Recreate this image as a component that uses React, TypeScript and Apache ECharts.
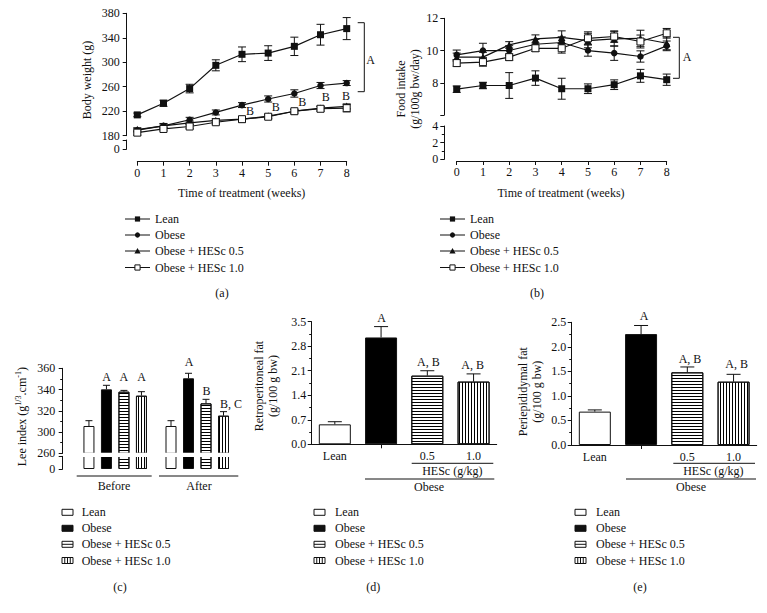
import React, { useEffect, useRef } from 'react';
import * as echarts from 'echarts';

// ---------- data ----------
const weeks = [0, 1, 2, 3, 4, 5, 6, 7, 8];
const groupNames = ['Lean', 'Obese', 'Obese + HESc 0.5', 'Obese + HESc 1.0'];

// (a) body weight (g)
const bwLean = [214, 233, 257, 295, 313, 315, 326, 345, 355];
const bwObese = [189, 196, 206, 218, 230, 240, 249, 262, 266];
const bwH05 = [190, 196, 201, 205, 207, 212, 220, 225, 228];
const bwH10 = [185, 191, 195, 202, 207, 211, 220, 224, 225];
const bwLeanErr = [3, 5, 7, 9, 12, 12, 15, 17, 18];
const bwObeseErr = [3, 4, 4, 4, 4, 5, 6, 5, 4];
const bwH05Err = [3, 3, 3, 3, 3, 3, 3, 3, 4];
const bwH10Err = [4, 3, 3, 3, 3, 3, 3, 4, 6];

// (b) food intake (g/100g bw/day)
const fiLean = [7.6, 7.83, 7.83, 8.29, 7.63, 7.63, 7.88, 8.43, 8.19];
const fiObese = [9.73, 10.0, 10.0, 10.39, 10.5, 10.0, 9.84, 9.63, 10.29];
const fiH05 = [9.59, 9.59, 10.35, 10.72, 10.82, 10.62, 10.72, 10.76, 10.45];
const fiH10 = [9.22, 9.28, 9.59, 10.14, 10.14, 10.76, 10.87, 10.56, 11.07];
const fiLeanErr = [0.2, 0.2, 0.8, 0.45, 0.65, 0.3, 0.3, 0.4, 0.35];
const fiObeseErr = [0.3, 0.45, 0.3, 0.3, 0.35, 0.35, 0.45, 0.35, 0.3];
const fiH05Err = [0.25, 0.3, 0.2, 0.25, 0.4, 0.45, 0.45, 0.5, 0.4];
const fiH10Err = [0.2, 0.25, 0.2, 0.2, 0.3, 0.4, 0.35, 0.4, 0.3];

// (c) Lee index
const leeGroups = ['Before', 'After'];
const leeBefore = [305.7, 340.2, 338, 334.2];
const leeBeforeErr = [5, 3.8, 1.2, 3.8];
const leeAfter = [305.7, 350.6, 327, 315.4];
const leeAfterErr = [5, 4.7, 3.8, 3.8];
const leeTickLabels: Record<number, string> = { 280: '260', 300: '300', 320: '320', 340: '340', 360: '360' };

// (d), (e)
const fatCats = ['Lean', '', '0.5', '1.0'];
const retroFat = [0.57, 3.05, 1.96, 1.79];
const retroErr = [0.075, 0.31, 0.14, 0.22];
const periFat = [0.68, 2.26, 1.48, 1.29];
const periErr = [0.035, 0.175, 0.11, 0.15];

// ---------- styling ----------
const FONT = 'Liberation Serif';
const INK = '#111';
const symbols = ['rect', 'circle', 'triangle', 'rect'];
const symSizes = [7, 6.5, 7.5, 7];

const hStripe = { symbol: 'rect', symbolSize: 1, dashArrayX: [1, 0], dashArrayY: [1, 2], rotation: 0, color: '#000' };
const vStripe = { symbol: 'rect', symbolSize: 1, dashArrayX: [1, 2], dashArrayY: [1, 0], rotation: 0, color: '#000' };
const barStyles: any[] = [
  { color: '#fff', borderColor: INK, borderWidth: 1 },
  { color: '#000', borderColor: INK, borderWidth: 1 },
  { color: '#fff', borderColor: INK, borderWidth: 1, decal: hStripe },
  { color: '#fff', borderColor: INK, borderWidth: 1, decal: vStripe },
];

const axisLine = { show: true, onZero: false, lineStyle: { color: INK, width: 1 } };
const axisTick = { show: true, length: 4, lineStyle: { color: INK, width: 1 } };
const minorTick = { show: true, splitNumber: 2, length: 2.5, lineStyle: { color: INK, width: 1 } };
const lbl = (margin: number, formatter?: any) => ({
  fontFamily: FONT, fontSize: 12, color: INK, margin, ...(formatter ? { formatter } : {}),
});

function lineSeries(values: number[], k: number, ai: number) {
  return {
    type: 'line', name: groupNames[k], xAxisIndex: ai, yAxisIndex: ai,
    data: weeks.map((w, i) => [w, values[i]]),
    symbol: symbols[k], symbolSize: symSizes[k], clip: false, z: 4 + (k === 3 ? 1 : 0),
    lineStyle: { color: INK, width: 1.2 },
    itemStyle: k === 3 ? { color: '#fff', borderColor: INK, borderWidth: 1 } : { color: INK },
  };
}

function errSeries(xs: number[], values: number[], errs: number[], ai: number, capHalf: number, both: boolean) {
  return {
    type: 'custom', xAxisIndex: ai, yAxisIndex: ai, clip: false, z: 3,
    encode: { x: 0, y: 1 },
    data: values.map((v, i) => [xs[i], v, errs[i]]),
    renderItem: (_p: any, api: any) => {
      const x = api.value(0), y = api.value(1), e = api.value(2);
      const pt = api.coord([x, y + e]);
      const pb = api.coord([x, both ? y - e : y]);
      const style = { stroke: INK, lineWidth: 1 };
      const children: any[] = [
        { type: 'line', shape: { x1: pt[0], y1: pt[1], x2: pb[0], y2: pb[1] }, style },
        { type: 'line', shape: { x1: pt[0] - capHalf, y1: pt[1], x2: pt[0] + capHalf, y2: pt[1] }, style },
      ];
      if (both) children.push({ type: 'line', shape: { x1: pb[0] - capHalf, y1: pb[1], x2: pb[0] + capHalf, y2: pb[1] }, style });
      return { type: 'group', children };
    },
  };
}

function txt(text: string, x: number, y: number, opts: any = {}) {
  const { rotate, align, size, ...rest } = opts;
  return {
    type: 'text', x, y, rotation: rotate ? Math.PI / 2 : 0, z: 10,
    style: { text, fontFamily: FONT, fontSize: size || 12, fill: INK, align: align || 'center', verticalAlign: 'middle', ...rest },
  };
}
function seg(x1: number, y1: number, x2: number, y2: number) {
  return { type: 'line', z: 10, shape: { x1, y1, x2, y2 }, style: { stroke: INK, lineWidth: 1 } };
}
function bracket(xl: number, xr: number, y1: number, y2: number) {
  return { type: 'polyline', z: 10, shape: { points: [[xl, y1], [xr, y1], [xr, y2], [xl, y2]] }, style: { stroke: INK, fill: null, lineWidth: 1 } };
}

function markerEl(k: number, cx: number, cy: number) {
  const h = 2.6;
  if (k === 0) return { type: 'rect', z: 11, shape: { x: cx - h, y: cy - h, width: 2 * h, height: 2 * h }, style: { fill: INK } };
  if (k === 1) return { type: 'circle', z: 11, shape: { cx, cy, r: h }, style: { fill: INK } };
  if (k === 2) return { type: 'polygon', z: 11, shape: { points: [[cx, cy - h - 0.5], [cx - h - 0.5, cy + h], [cx + h + 0.5, cy + h]] }, style: { fill: INK } };
  return { type: 'rect', z: 11, shape: { x: cx - h, y: cy - h, width: 2 * h, height: 2 * h }, style: { fill: '#fff', stroke: INK, lineWidth: 1 } };
}

function lineLegend(x0: number, tx: number, rows: number[]) {
  const els: any[] = [];
  groupNames.forEach((name, k) => {
    const y = rows[k];
    els.push(seg(x0, y, x0 + 25, y));
    els.push(markerEl(k, x0 + 12.5, y));
    els.push(txt(name, tx, y, { align: 'left' }));
  });
  return els;
}

function barLegend(x0: number, tx: number, rows: number[]) {
  const els: any[] = [];
  const w = 11, h = 6;
  groupNames.forEach((name, k) => {
    const y = rows[k];
    els.push({ type: 'rect', z: 10, shape: { x: x0, y: y - h / 2, width: w, height: h }, style: { fill: k === 1 ? INK : '#fff', stroke: INK, lineWidth: 1 } });
    if (k === 2) els.push(seg(x0, y, x0 + w, y));
    if (k === 3) for (let j = 1; j <= 3; j++) els.push(seg(x0 + (j * w) / 4, y - h / 2, x0 + (j * w) / 4, y + h / 2));
    els.push(txt(name, tx, y, { align: 'left' }));
  });
  return els;
}

function buildOption() {
  const leeX = (g: number, i: number) => i + g * 4.69;
  const leeBars = (grid: number) => ({
    type: 'bar', xAxisIndex: grid, yAxisIndex: grid, barWidth: 11, clip: true, z: 2,
    data: [leeBefore, leeAfter].flatMap((arr, g) => arr.map((v, i) => ({ value: [leeX(g, i), v], itemStyle: barStyles[i] }))),
  });
  const fatBars = (ai: number, vals: number[]) => ({
    type: 'bar', xAxisIndex: ai, yAxisIndex: ai, barWidth: 32, z: 2,
    data: vals.map((v, i) => ({ value: v, itemStyle: barStyles[i] })),
  });

  const grid = [
    { left: 137.3, top: 13.3, width: 209.4, height: 122.4 },
    { left: 137.3, top: 140, width: 209.4, height: 9 },
    { left: 456.7, top: 18.3, width: 210, height: 96.7 },
    { left: 456.7, top: 126, width: 210, height: 33.3 },
    { left: 62.7, top: 368.3, width: 178.3, height: 85 },
    { left: 62.7, top: 456.3, width: 178.3, height: 12.7 },
    { left: 311.7, top: 321.7, width: 185, height: 122.6 },
    { left: 571.7, top: 322.3, width: 185, height: 122.7 },
  ];

  const hiddenX = (gi: number, min: number, max: number) => ({ gridIndex: gi, type: 'value', min, max, show: false });
  const weekX = (gi: number, offset: number) => ({
    gridIndex: gi, type: 'value', min: 0, max: 8, interval: 1, offset,
    axisLine, axisTick, splitLine: { show: false }, axisLabel: lbl(5),
  });
  const catX = (gi: number) => ({
    gridIndex: gi, type: 'category', data: fatCats,
    axisLine, splitLine: { show: false },
    axisTick: { ...axisTick, alignWithLabel: true, interval: (i: number) => i === 1 },
    axisLabel: { ...lbl(6), interval: 0 },
  });
  const valY = (gi: number, min: number, max: number, interval: number, offset: number, margin: number, formatter?: any, minor?: boolean) => ({
    gridIndex: gi, type: 'value', min, max, interval, offset,
    axisLine, axisTick, splitLine: { show: false }, axisLabel: lbl(margin, formatter),
    ...(minor ? { minorTick } : {}),
  });

  const xAxis = [
    hiddenX(0, 0, 8), weekX(1, 12.7),
    hiddenX(2, 0, 8), weekX(3, 1.7),
    hiddenX(4, -1.5, 8.69), hiddenX(5, -1.5, 8.69),
    catX(6), catX(7),
  ];
  const yAxis = [
    valY(0, 180, 380, 40, 10.6, 7),
    valY(1, 0, 10, 10, 10.6, 7, (v: number) => (v === 0 ? '0' : '')),
    valY(2, 6, 12, 2, 12.4, 6, (v: number) => (v === 6 ? '' : String(v))),
    valY(3, 0, 4, 2, 12.4, 6, undefined, true),
    valY(4, 280, 360, 20, 0, 7.5, (v: number) => leeTickLabels[v] ?? '', true),
    valY(5, 0, 10, 10, 0, 7.5, (v: number) => (v === 0 ? '0' : '')),
    valY(6, 0, 3.5, 0.7, 0, 5.5, (v: number) => v.toFixed(1), true),
    valY(7, 0, 2.5, 0.5, 0, 5.5, (v: number) => v.toFixed(1), true),
  ];

  const bw = [bwLean, bwObese, bwH05, bwH10];
  const bwE = [bwLeanErr, bwObeseErr, bwH05Err, bwH10Err];
  const fi = [fiLean, fiObese, fiH05, fiH10];
  const fiE = [fiLeanErr, fiObeseErr, fiH05Err, fiH10Err];
  const idx = [0, 1, 2, 3];

  const series: any[] = [
    ...bw.map((v, k) => errSeries(weeks, v, bwE[k], 0, 4, true)),
    ...bw.map((v, k) => lineSeries(v, k, 0)),
    ...fi.map((v, k) => errSeries(weeks, v, fiE[k], 2, 4, true)),
    ...fi.map((v, k) => lineSeries(v, k, 2)),
    leeBars(4), leeBars(5),
    errSeries(idx.map((i) => leeX(0, i)), leeBefore, leeBeforeErr, 4, 3.5, false),
    errSeries(idx.map((i) => leeX(1, i)), leeAfter, leeAfterErr, 4, 3.5, false),
    fatBars(6, retroFat), errSeries(idx, retroFat, retroErr, 6, 7, false),
    fatBars(7, periFat), errSeries(idx, periFat, periErr, 7, 7, false),
  ];

  const legendRowsTop = [219, 235, 251, 267.5];
  const legendRowsBot = [512.3, 528.3, 544.3, 560.5];

  const graphic: any[] = [
    // white break band across the Lee-index bars
    { type: 'rect', z: 9, shape: { x: 70, y: 452.7, width: 172, height: 4.2 }, style: { fill: '#fff' } },
    // axis titles
    txt('Body weight (g)', 86.7, 80, { rotate: true }),
    txt('Food intake', 401, 89, { rotate: true }),
    txt('(g/100g bw/day)', 415, 89, { rotate: true }),
    txt('Time of treatment (weeks)', 241.7, 193),
    txt('Time of treatment (weeks)', 561, 193),
    {
      type: 'text', x: 21.7, y: 416.7, rotation: Math.PI / 2, z: 10,
      style: {
        text: '{n|Lee index (g}{s|1/3}{n|.cm}{s|-1}{n|)}', align: 'center', verticalAlign: 'middle',
        rich: {
          n: { fontFamily: FONT, fontSize: 12, fill: INK, lineHeight: 14 },
          s: { fontFamily: FONT, fontSize: 8, fill: INK, lineHeight: 14, verticalAlign: 'top' },
        },
      },
    },
    txt('Retroperitoneal fat', 259.3, 386, { rotate: true }),
    txt('(g/100 g bw)', 273.3, 386, { rotate: true }),
    txt('Periepididymal fat', 523.3, 391.7, { rotate: true }),
    txt('(g/100 g bw)', 537.3, 391.7, { rotate: true }),
    // brackets & letters (a)
    bracket(357.7, 364.3, 22.7, 91.7), txt('A', 370.5, 60),
    txt('B', 250, 111), txt('B', 275.7, 106.5), txt('B', 302.3, 102.3), txt('B', 325.7, 97.3), txt('B', 346, 95.7),
    // (b)
    bracket(673, 679.3, 37.3, 78.3), txt('A', 687, 56.7),
    // (c)
    txt('A', 106.5, 377.3), txt('A', 123.8, 377.3), txt('A', 141.5, 377.3),
    txt('A', 189, 362.3), txt('B', 206.5, 390.7), txt('B, C', 231, 404),
    seg(76.7, 476, 151.7, 476), seg(159, 476, 238.3, 476),
    txt(leeGroups[0], 114, 486), txt(leeGroups[1], 199, 486),
    // (d)
    txt('A', 381.7, 318.3), txt('A, B', 428.3, 362), txt('A, B', 472.7, 365),
    seg(411.7, 463.3, 493.3, 463.3), txt('HESc (g/kg)', 452.3, 471),
    seg(365, 479, 494.3, 479), txt('Obese', 429, 486.5),
    // (e)
    txt('A', 644, 316.3), txt('A, B', 690, 359), txt('A, B', 736.7, 364),
    seg(673.3, 463.3, 755, 463.3), txt('HESc (g/kg)', 713.3, 471),
    seg(626, 479, 756, 479), txt('Obese', 691, 486.5),
    // legends
    ...lineLegend(125, 155, legendRowsTop),
    ...lineLegend(440, 470, legendRowsTop),
    ...barLegend(62, 81.7, legendRowsBot),
    ...barLegend(314, 335, legendRowsBot),
    ...barLegend(575, 596, legendRowsBot),
    // panel labels
    txt('(a)', 222, 293.3), txt('(b)', 537, 293.3),
    txt('(c)', 120, 586.7), txt('(d)', 373.3, 586.7), txt('(e)', 640, 586.7),
  ];

  return {
    animation: false,
    backgroundColor: '#fff',
    textStyle: { fontFamily: FONT },
    grid, xAxis, yAxis, series, graphic,
  };
}

export default function App() {
  const ref = useRef<HTMLDivElement>(null);
  useEffect(() => {
    if (!ref.current) return;
    const chart = echarts.init(ref.current, null, { renderer: 'svg' });
    chart.setOption(buildOption() as any);
    return () => chart.dispose();
  }, []);
  return (
    <div
      ref={ref}
      style={{ position: 'fixed', left: 0, top: 0, width: 767, height: 613, background: '#fff' }}
    />
  );
}
